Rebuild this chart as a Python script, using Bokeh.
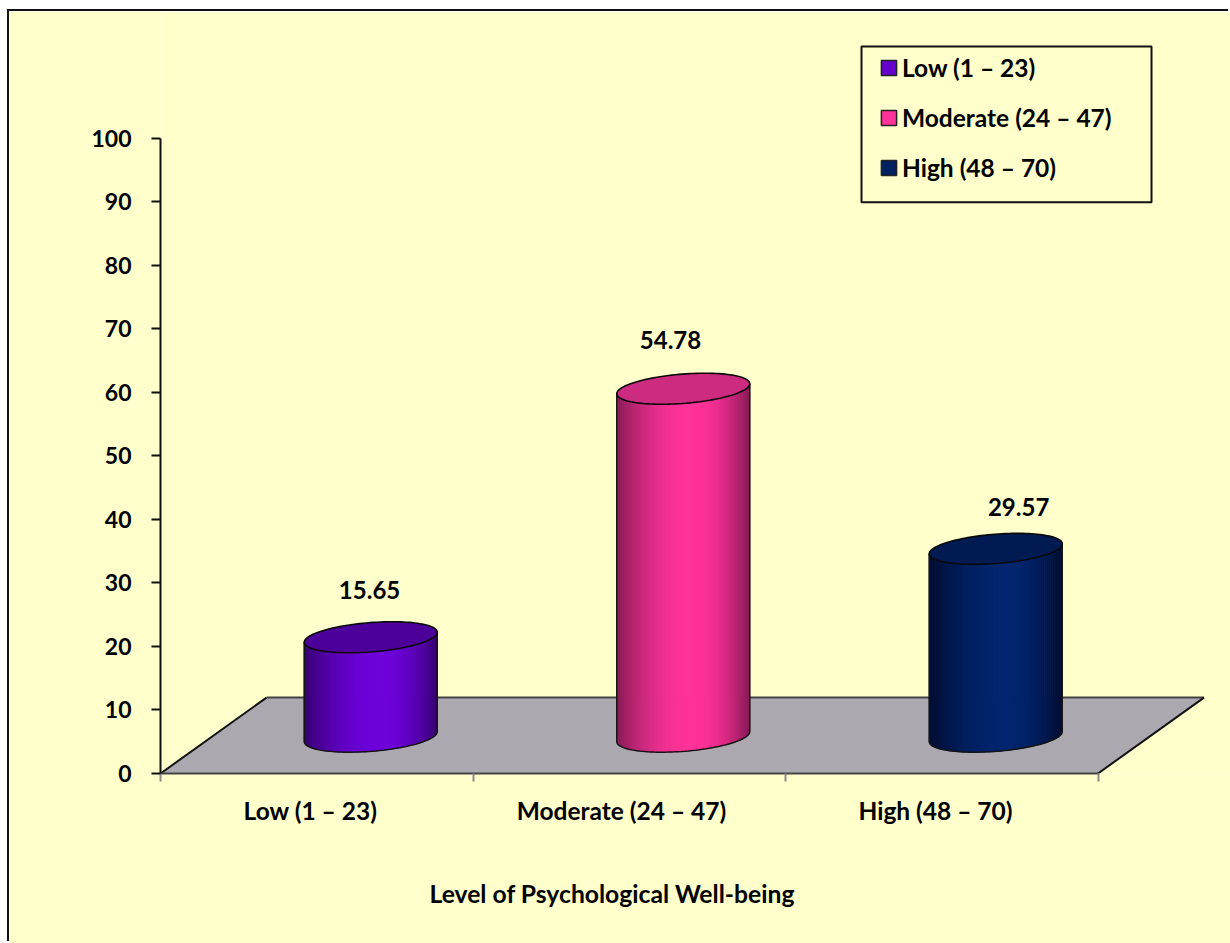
import numpy as np
from bokeh.embed import file_html
from bokeh.resources import INLINE
from bokeh.plotting import figure
from bokeh.models import FixedTicker, Legend, LegendItem, LinearAxis, Range1d, Title
from bokeh.core.properties import value

# Chart data
categories = ["Low (1 – 23)", "Moderate (24 – 47)", "High (48 – 70)"]
percentages = [15.65, 54.78, 29.57]
value_labels = ["15.65", "54.78", "29.57"]
y_ticks = [0, 10, 20, 30, 40, 50, 60, 70, 80, 90, 100]
x_title = "Level of Psychological Well-being"

# Colours per cylinder: lit side, shaded edge, top face
side_colors = [(0x6E, 0x00, 0xDC), (0xFF, 0x33, 0x99), (0x00, 0x25, 0x6E)]
edge_colors = [(0x35, 0x00, 0x6E), (0x85, 0x1A, 0x55), (0x00, 0x0C, 0x30)]
top_colors = ["#4C0099", "#CC2B80", "#001B52"]
legend_colors = ["#6600CC", "#FF3399", "#002060"]

PAPER = "#FFFFCC"
FLOOR = "#ABA8B0"
FONT = "Lato"
FONT_PX = "24px"

# Canvas sits inside a white page margin; a shadow gives its black top and left rules
MARGIN_L, MARGIN_T = 9, 11
W, H = 1230 - MARGIN_L, 943 - MARGIN_T
LEFT, TOP, BOTTOM = 160 - MARGIN_L, 1, 169
PX_PER_X = 312.5    # one category slot
PX_PER_Y = 6.36     # one percentage point

p = figure(width=W, height=H, output_backend="svg", toolbar_location=None,
           x_axis_type=None, y_axis_type=None,
           x_range=Range1d(0, (W - LEFT) / PX_PER_X),
           y_range=Range1d(0, (H - BOTTOM - TOP) / PX_PER_Y),
           min_border_left=LEFT, min_border_right=0,
           min_border_top=TOP, min_border_bottom=BOTTOM,
           border_fill_color=PAPER, background_fill_color=PAPER,
           outline_line_color=None,
           margin=(MARGIN_T, 0, 0, MARGIN_L),
           styles={"box-shadow": "-2px -2px 0 #111111"})
p.grid.visible = False

# Axes
y_axis = LinearAxis(ticker=FixedTicker(ticks=y_ticks), bounds=(0, 100))
y_axis.axis_line_color = "#111111"
y_axis.axis_line_width = 2
y_axis.major_tick_line_color = "#111111"
y_axis.major_tick_line_width = 2
y_axis.major_tick_in = 0
y_axis.major_tick_out = 9
y_axis.minor_tick_line_color = None
y_axis.major_label_standoff = 20
y_axis.major_label_text_font = FONT
y_axis.major_label_text_font_style = "bold"
y_axis.major_label_text_font_size = "23px"
y_axis.major_label_text_color = "black"
p.add_layout(y_axis, "left")

label_ticks = [0.48, 1.475, 2.48]
x_axis = LinearAxis(ticker=FixedTicker(ticks=label_ticks, minor_ticks=[0, 1, 2, 3]),
                    bounds=(0, 3))
x_axis.major_label_overrides = dict(zip(label_ticks, categories))
x_axis.axis_line_color = "#444444"
x_axis.axis_line_width = 2
x_axis.major_tick_line_color = None
x_axis.major_tick_in = 0
x_axis.major_tick_out = 0
x_axis.minor_tick_line_color = "#8A8A8A"
x_axis.minor_tick_line_width = 2
x_axis.minor_tick_in = 0
x_axis.minor_tick_out = 8
x_axis.major_label_standoff = 14
x_axis.major_label_text_font = FONT
x_axis.major_label_text_font_style = "bold"
x_axis.major_label_text_font_size = "24.5px"
x_axis.major_label_text_color = "black"
p.add_layout(x_axis, "below")

# Blank line holding the title further down
p.add_layout(Title(text="\u00a0", standoff=0, text_font=FONT, text_font_size="10px"), "below")

# Horizontal axis title, set off from the frame's left edge
p.add_layout(Title(text=x_title, align="left", offset=269, standoff=71,
                   text_font=FONT, text_font_style="bold", text_font_size="24.7px",
                   text_color="black"), "below")

# Floor of the 3D scene
depth_x, depth_y = 106 / PX_PER_X, 76 / PX_PER_Y
p.patch([0, 3, 3 + depth_x, depth_x], [0, 0, depth_y, depth_y], fill_color=FLOOR, line_color=None)
p.line([depth_x, 3 + depth_x], [depth_y, depth_y], line_color="#444444", line_width=2)
p.line([0, depth_x], [0, depth_y], line_color="#111111", line_width=2)
p.line([3, 3 + depth_x], [0, depth_y], line_color="#111111", line_width=2)

# Cylinders
half_w = 66.5 / PX_PER_X
tilt = 5 / PX_PER_Y          # right rim sits higher than the left rim
minor = 14.7 / PX_PER_Y
base_y = 5.8
bar_shift = 54 / PX_PER_X


def rim(cx, cy, angle):
    return cx + half_w * np.cos(angle), cy + tilt * np.cos(angle) + minor * np.sin(angle)


def mix(a, b, t):
    return "#%02x%02x%02x" % tuple(int(round(a[i] + (b[i] - a[i]) * t)) for i in range(3))


STRIPS = 66
for i, pct in enumerate(percentages):
    cx = i + 0.5 + bar_shift
    top_y = base_y + pct
    # Strips of equal on-screen width across the lower half of the rim
    angles = 2 * np.pi - np.arccos(np.linspace(-1, 1, STRIPS + 1))
    xs, ys, colors = [], [], []
    for j in range(STRIPS):
        a0, a1 = angles[j], angles[j + 1]
        x0, yb0 = rim(cx, base_y, a0)
        x1, yb1 = rim(cx, base_y, a1)
        _, yt0 = rim(cx, top_y, a0)
        _, yt1 = rim(cx, top_y, a1)
        xs.append([x0, x1, x1, x0])
        ys.append([yb0, yb1, yt1, yt0])
        u = ((x0 + x1) / 2 - cx + half_w) / (2 * half_w)
        peak = 0.58
        d = abs(u - peak) / (peak if u < peak else 1 - peak)
        colors.append(mix(side_colors[i], edge_colors[i], d ** 2.0))
    p.patches(xs, ys, fill_color=colors, line_color=colors, line_width=1)

    # Outline of the side wall
    arc = np.linspace(np.pi, 2 * np.pi, 60)
    bx, by = rim(cx, base_y, arc)
    p.line(bx, by, line_color="#151515", line_width=1.5)
    lx, ly = rim(cx, base_y, np.pi)
    _, lt = rim(cx, top_y, np.pi)
    rx, ry = rim(cx, base_y, 0.0)
    _, rt = rim(cx, top_y, 0.0)
    p.line([lx, lx], [ly, lt], line_color="#151515", line_width=1.5)
    p.line([rx, rx], [ry, rt], line_color="#151515", line_width=1.5)

    # Top face
    ring = np.linspace(0, 2 * np.pi, 120)
    tx, ty = rim(cx, top_y, ring)
    p.patch(tx, ty, fill_color=top_colors[i], line_color="#0A0A0A", line_width=1.6)

# Value labels above the cylinders
label_x = [0.669, 1.632, 2.746]
label_lift = [13.2, 13.4, 12.35]
p.text(x=label_x, y=[v + d for v, d in zip(percentages, label_lift)], text=value_labels,
       text_align="center", text_baseline="middle", text_color="black",
       text_font=value(FONT), text_font_style="bold", text_font_size=FONT_PX)

# Legend: a ruled box with the entries laid over it
p.quad(left=[(861 - 160) / PX_PER_X], right=[(1151 - 160) / PX_PER_X],
       top=[(774 - 46) / PX_PER_Y], bottom=[(774 - 202) / PX_PER_Y],
       fill_color=PAPER, line_color="#111111", line_width=2)

items = []
for name, col in zip(categories, legend_colors):
    r = p.quad(left=[np.nan], right=[np.nan], top=[np.nan], bottom=[np.nan],
               fill_color=col, line_color="#222222", line_width=1.5)
    items.append(LegendItem(label=value(name), renderers=[r]))
legend = Legend(items=items, location=(879 - 160, 774 - 183), orientation="vertical",
                background_fill_alpha=0, border_line_color=None,
                label_text_font=FONT, label_text_font_style="bold", label_text_font_size="24.5px",
                label_text_color="black", glyph_width=19, glyph_height=19,
                label_standoff=4, spacing=21, padding=0, margin=0,
                label_text_baseline="middle")
p.add_layout(legend, "center")

open("out.html", "w").write(file_html(p, INLINE))
